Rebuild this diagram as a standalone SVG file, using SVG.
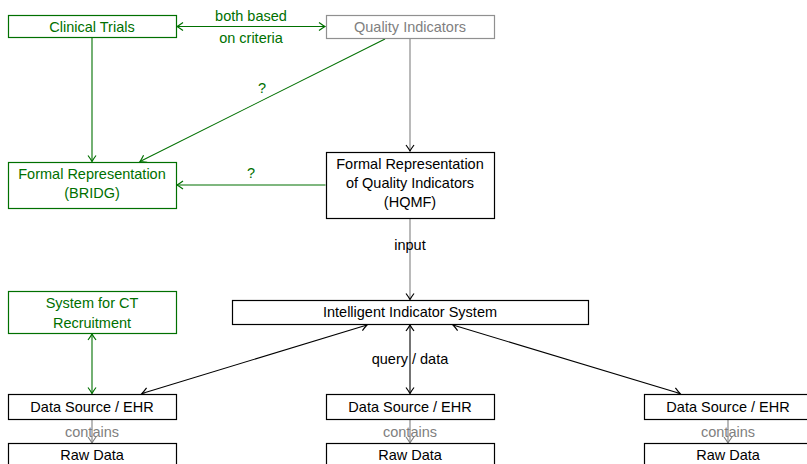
<svg xmlns="http://www.w3.org/2000/svg" width="807" height="464" viewBox="0 0 807 464">
<style>
text{font-family:"Liberation Sans","DejaVu Sans",sans-serif;font-size:14.5px;text-anchor:middle}
.g{fill:#007000}
.k{fill:#000}
.gr{fill:#808080}
.box{fill:#fff;stroke:#000;stroke-width:1.2}
.gbox{fill:#fff;stroke:#007000;stroke-width:1.2}
.grbox{fill:#fff;stroke:#909090;stroke-width:1.2}
.lg{stroke:#007000;stroke-width:1.1;fill:none}
.lk{stroke:#000;stroke-width:1.1;fill:none}
.lgr{stroke:#808080;stroke-width:1.1;fill:none}
</style>
<defs>
<marker id="ag" viewBox="-7 -5 9 10" refX="0" refY="0" markerWidth="9" markerHeight="10" markerUnits="userSpaceOnUse" orient="auto-start-reverse"><path d="M-6,-4 Q-1.8,-0.9 0,0 Q-1.8,0.9 -6,4" fill="none" stroke="#007000" stroke-width="1.2"/></marker>
<marker id="ak" viewBox="-7 -5 9 10" refX="0" refY="0" markerWidth="9" markerHeight="10" markerUnits="userSpaceOnUse" orient="auto-start-reverse"><path d="M-6,-4 Q-1.8,-0.9 0,0 Q-1.8,0.9 -6,4" fill="none" stroke="#000" stroke-width="1.2"/></marker>
<marker id="agr" viewBox="-7 -5 9 10" refX="0" refY="0" markerWidth="9" markerHeight="10" markerUnits="userSpaceOnUse" orient="auto-start-reverse"><path d="M-6,-4 Q-1.8,-0.9 0,0 Q-1.8,0.9 -6,4" fill="none" stroke="#808080" stroke-width="1.2"/></marker>
</defs>
<rect width="807" height="464" fill="#fff"/>
<g id="connectors">
<line class="lg" x1="177" y1="26.5" x2="325" y2="26.5" marker-start="url(#ag)" marker-end="url(#ag)"/>
<text class="g" x="251" y="21">both based</text>
<text class="g" x="251" y="43">on criteria</text>
<line class="lg" x1="92" y1="37.5" x2="92" y2="161.5" marker-end="url(#ag)"/>
<line class="lg" x1="385" y1="39" x2="140" y2="161.5" marker-end="url(#ag)"/>
<text class="g" x="262" y="93">?</text>
<line class="lgr" x1="410" y1="38.5" x2="410" y2="151" marker-end="url(#ak)"/>
<line class="lg" x1="325.5" y1="185" x2="177" y2="185" marker-end="url(#ag)"/>
<text class="g" x="251" y="178">?</text>
<line class="lgr" x1="410" y1="218.5" x2="410" y2="299.5" marker-end="url(#ak)"/>
<text class="k" x="410" y="250">input</text>
<line class="lg" x1="92" y1="334" x2="92" y2="393.5" marker-start="url(#ag)" marker-end="url(#ag)"/>
<line class="lk" x1="367" y1="325" x2="142" y2="393.5" marker-start="url(#ak)" marker-end="url(#ak)"/>
<line class="lk" x1="410" y1="325" x2="410" y2="393.5" marker-start="url(#ak)" marker-end="url(#ak)"/>
<text class="k" x="410" y="364">query / data</text>
<line class="lk" x1="453" y1="325" x2="680" y2="393.5" marker-start="url(#ak)" marker-end="url(#ak)"/>
<line class="lgr" x1="92" y1="420" x2="92" y2="443" marker-end="url(#agr)"/>
<line class="lgr" x1="410" y1="420" x2="410" y2="443" marker-end="url(#agr)"/>
<line class="lgr" x1="728" y1="420" x2="728" y2="443" marker-end="url(#agr)"/>
<text class="gr" x="92" y="437">contains</text>
<text class="gr" x="410" y="437">contains</text>
<text class="gr" x="728" y="437">contains</text>
</g>
<g id="clinical-trials"><rect class="gbox" x="8.5" y="15.5" width="168" height="22"/><text class="g" x="92" y="31.5">Clinical Trials</text></g>
<g id="quality-indicators"><rect class="grbox" x="326.5" y="15.5" width="168" height="23"/><text class="gr" x="410" y="31.5">Quality Indicators</text></g>
<g id="bridg"><rect class="gbox" x="8.5" y="162.5" width="168" height="46"/><text class="g" x="92" y="179">Formal Representation</text><text class="g" x="92" y="198">(BRIDG)</text></g>
<g id="hqmf"><rect class="box" x="326.5" y="152.5" width="168" height="66"/><text class="k" x="410" y="169">Formal Representation</text><text class="k" x="410" y="188">of Quality Indicators</text><text class="k" x="410" y="207">(HQMF)</text></g>
<g id="ct-recruitment"><rect class="gbox" x="8.5" y="291.5" width="168" height="42"/><text class="g" x="92" y="308">System for CT</text><text class="g" x="92" y="328">Recruitment</text></g>
<g id="iis"><rect class="box" x="232.5" y="300.5" width="356" height="24"/><text class="k" x="410" y="317">Intelligent Indicator System</text></g>
<g id="ds1"><rect class="box" x="8.5" y="394.5" width="168" height="25"/><text class="k" x="92" y="412">Data Source / EHR</text></g>
<g id="ds2"><rect class="box" x="326.5" y="394.5" width="168" height="25"/><text class="k" x="410" y="412">Data Source / EHR</text></g>
<g id="ds3"><rect class="box" x="644.5" y="394.5" width="168" height="25"/><text class="k" x="728" y="412">Data Source / EHR</text></g>
<g id="raw1"><rect class="box" x="8.5" y="443.5" width="168" height="25"/><text class="k" x="92" y="460">Raw Data</text></g>
<g id="raw2"><rect class="box" x="326.5" y="443.5" width="168" height="25"/><text class="k" x="410" y="460">Raw Data</text></g>
<g id="raw3"><rect class="box" x="644.5" y="443.5" width="168" height="25"/><text class="k" x="728" y="460">Raw Data</text></g>
</svg>
